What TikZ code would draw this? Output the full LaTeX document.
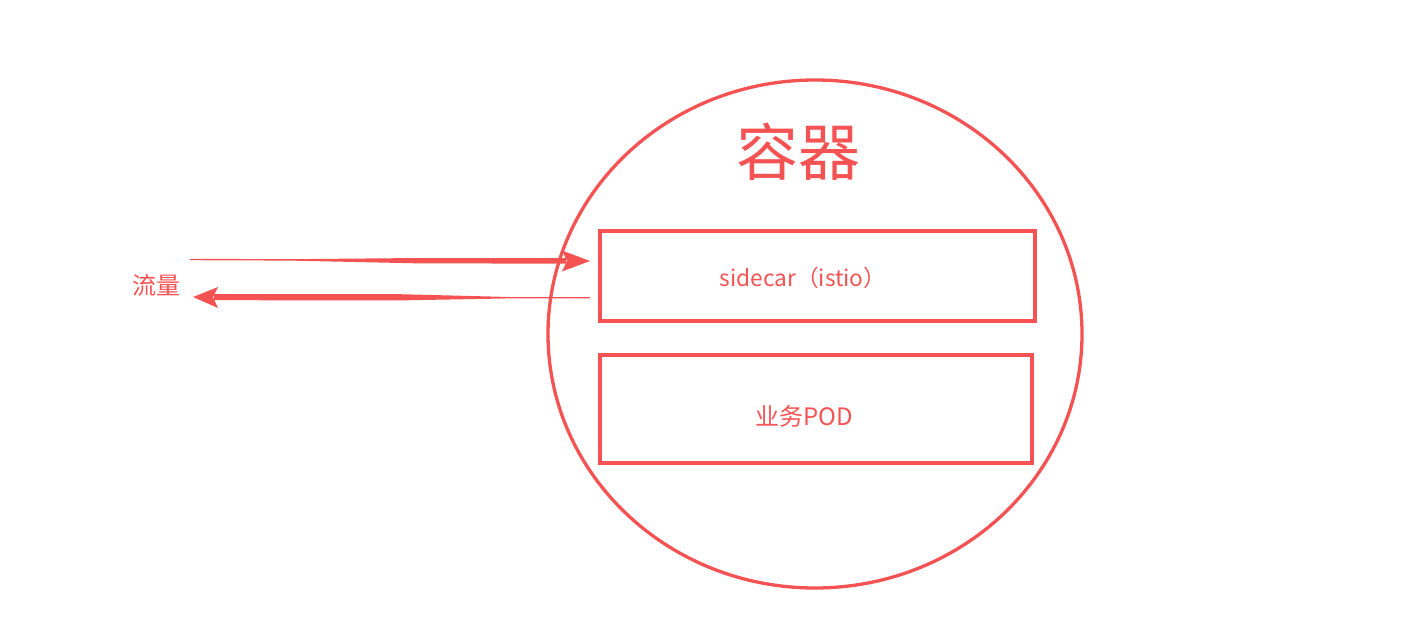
\documentclass[tikz,border=0pt]{standalone}
\usepackage{fontspec}
\newfontfamily\cjk{Noto Sans CJK SC}
\definecolor{redc}{RGB}{245,83,83}
\begin{document}
\begin{tikzpicture}[x=1pt,y=-1pt,
  boxstyle/.style={draw=redc,line width=3.2pt},
  lbl/.style={text=redc,font=\cjk\fontsize{24}{28}\selectfont,inner sep=0pt},
  shaft/.style={fill=redc,draw=none}]
\useasboundingbox (0,0) rectangle (1403,634);
% container
\draw[redc,line width=3.3pt] (815,334) ellipse [x radius=267, y radius=254];
\node[text=redc,font=\cjk\fontsize{62}{70}\selectfont,inner sep=0pt] (title) at (798,152) {容器};
% boxes
\draw[boxstyle] (600,231) rectangle (1035,321);
\node[lbl,font=\cjk\fontsize{22.7}{26}\selectfont] (side) at (803,278) {sidecar（istio）};
\draw[boxstyle] (600,355) rectangle (1032,463);
\node[lbl] (pod) at (804,416) {业务POD};
% flow label
\node[lbl] (flow) at (156,285) {流量};
% arrow in
\coordinate (inS) at (190,259.5);
\coordinate (inT) at (590,261);
\fill[shaft] (190,258.8) -- (290,259.2) -- (420,258) -- (566,258.2) -- (566,263.6) -- (420,263.4) -- (290,260.6) -- (190,260.2) -- cycle;
\fill[redc] (inT) -- (562,250.5) -- (567,261) -- (562,271.5) -- cycle;
% arrow out
\coordinate (outS) at (590,297.7);
\coordinate (outT) at (193,297);
\fill[shaft] (590,297) -- (510,297) -- (400,294.2) -- (214,294) -- (214,300.2) -- (400,300.4) -- (510,298.4) -- (590,298.4) -- cycle;
\fill[redc] (outT) -- (218,287) -- (213,297.2) -- (218,308) -- cycle;
\end{tikzpicture}
\end{document}
